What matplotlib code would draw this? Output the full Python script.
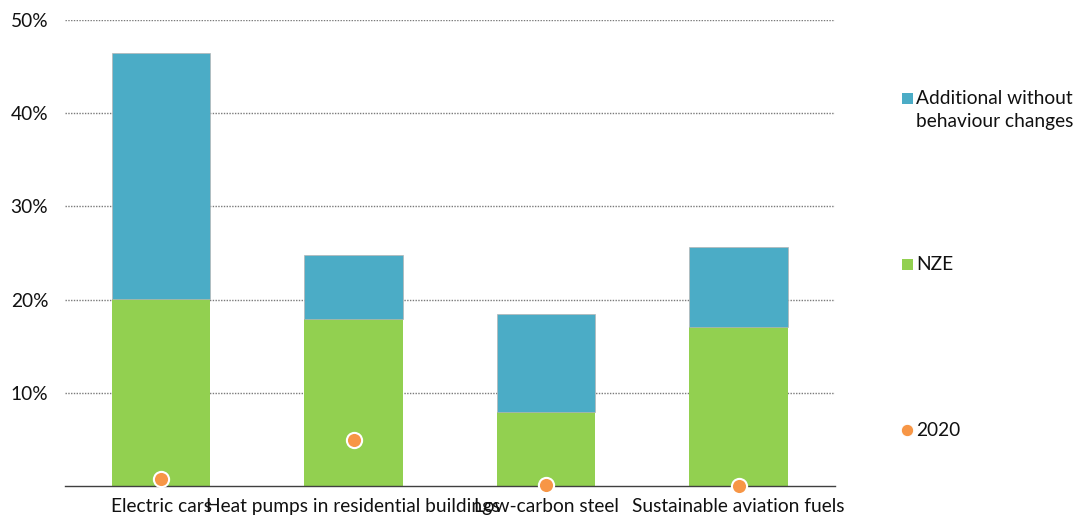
import matplotlib.pyplot as plt
from matplotlib.patches import Rectangle
from matplotlib.lines import Line2D
import numpy as np

# values in percent
categories = ["Electric cars", "Heat pumps in residential buildings",
              "Low-carbon steel", "Sustainable aviation fuels"]
nze = [20.1, 17.9, 7.9, 17.1]
additional = [26.4, 6.9, 10.6, 8.5]
y2020 = [0.75, 4.9, 0.1, 0.0]
yticks = [10, 20, 30, 40, 50]

BLUE = "#4BACC6"
GREEN = "#92D050"
ORANGE = "#F79646"
TEXT = "#111111"
FS = 13.8

plt.rcParams["font.family"] = ["Lato", "DejaVu Sans"]

fig = plt.figure(figsize=(10.8, 5.19), dpi=100)
ax = fig.add_axes([0.060, 0.0636, 0.713, 0.8979])

x = np.arange(len(categories))
ax.bar(x, nze, width=0.51, color=GREEN, zorder=2)
ax.bar(x, additional, width=0.51, bottom=nze, color=BLUE,
       edgecolor="#b5b5b5", linewidth=0.5, zorder=2)
ax.scatter(x, y2020, s=120, color=ORANGE, edgecolor="white",
           linewidth=1.5, zorder=4, clip_on=False)

ax.set_xlim(-0.5, len(categories) - 0.5)
ax.set_ylim(0, 50)
ax.set_yticks(yticks)
ax.set_yticklabels([f"{v}%" for v in yticks], fontsize=FS, color=TEXT)
ax.set_xticks(x)
ax.set_xticklabels(categories, fontsize=FS, color=TEXT)
ax.tick_params(axis="both", length=0)
ax.tick_params(axis="y", pad=12)
ax.tick_params(axis="x", pad=9)

ax.yaxis.grid(True, linestyle=(0, (1, 1)), color="#7a7a7a", linewidth=1.0, zorder=0)
ax.set_axisbelow(True)
for side in ["top", "right", "left"]:
    ax.spines[side].set_visible(False)
ax.spines["bottom"].set_color("#404040")
ax.spines["bottom"].set_linewidth(1.0)

# legend entries placed down the right side
W, H = fig.get_size_inches() * fig.dpi
fig.patches.append(Rectangle((902 / W, 1 - 104 / H), 11 / W, 11 / H,
                             transform=fig.transFigure, facecolor=BLUE,
                             edgecolor="none"))
fig.text(916 / W, 1 - 90 / H, "Additional without\nbehaviour changes",
         fontsize=FS, va="top", ha="left", linespacing=1.4, color=TEXT)
fig.patches.append(Rectangle((902 / W, 1 - 270 / H), 11 / W, 11 / H,
                             transform=fig.transFigure, facecolor=GREEN,
                             edgecolor="none"))
fig.text(916 / W, 1 - 264 / H, "NZE", fontsize=FS, va="center",
         ha="left", color=TEXT)
fig.lines.append(Line2D([907 / W], [1 - 430 / H], transform=fig.transFigure,
                        marker="o", markersize=9, color=ORANGE,
                        markeredgecolor="white", markeredgewidth=0.8))
fig.text(916 / W, 1 - 430 / H, "2020", fontsize=FS, va="center",
         ha="left", color=TEXT)

fig.savefig("out.png", dpi=100)
